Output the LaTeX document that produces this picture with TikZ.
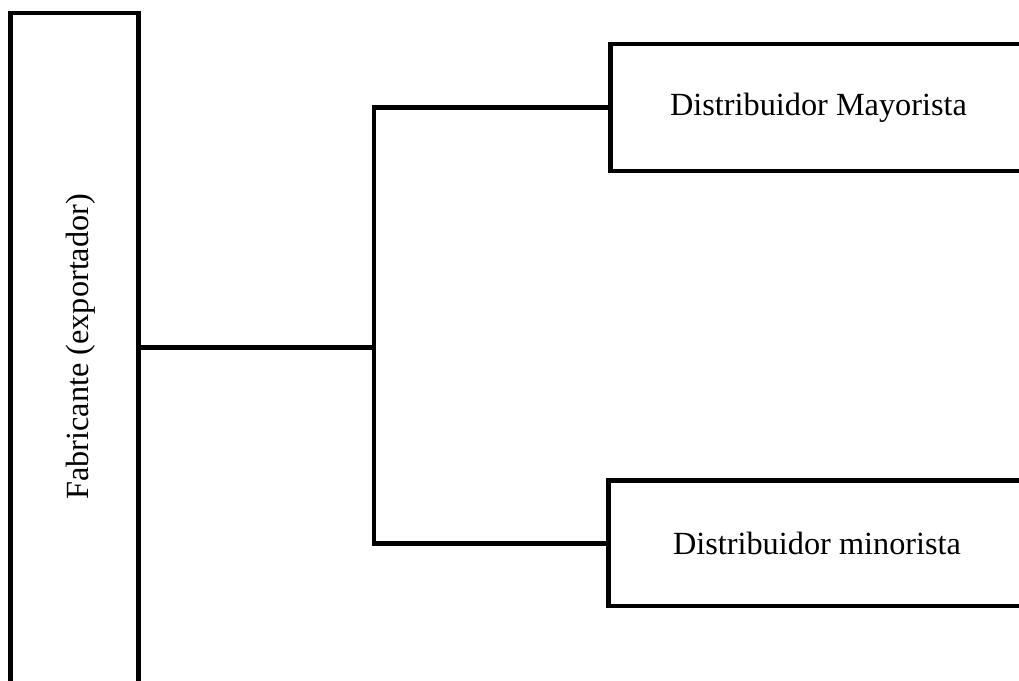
\documentclass[tikz,border=0pt]{standalone}
\usepackage{fontspec}
\setmainfont{Liberation Serif}
\begin{document}
\begin{tikzpicture}[x=1pt,y=1pt,
  boxstyle/.style={draw=black, line width=4.8pt, rectangle, inner sep=0pt,
    font=\fontsize{32.3}{39}\selectfont},
  conn/.style={draw=black, line width=4.8pt}]
\useasboundingbox (0,0) rectangle (1019,-680);
\clip (0,0) rectangle (1019,-680);
\fill[white] (0,0) rectangle (1019,-680);
\node[boxstyle, minimum width=128pt, minimum height=690pt] (fab) at (74.5,-358) {};
\node[font=\fontsize{32.3}{39}\selectfont, rotate=90, inner sep=0pt] (fablabel) at (81,-346.8) {Fabricante (exportador)};
\node[boxstyle, minimum width=416pt, minimum height=127pt] (may) at (818.5,-107.5) {\raisebox{-1pt}{Distribuidor Mayorista}};
\node[boxstyle, minimum width=417pt, minimum height=125.5pt] (min) at (817,-543.25) {\raisebox{-2pt}{Distribuidor minorista}};
\coordinate (j) at (374,-347.5);
\draw[conn] (j -| fab.east) -- (j);
\draw[conn] (may.west) -| (j) |- (min.west);
\end{tikzpicture}
\end{document}
